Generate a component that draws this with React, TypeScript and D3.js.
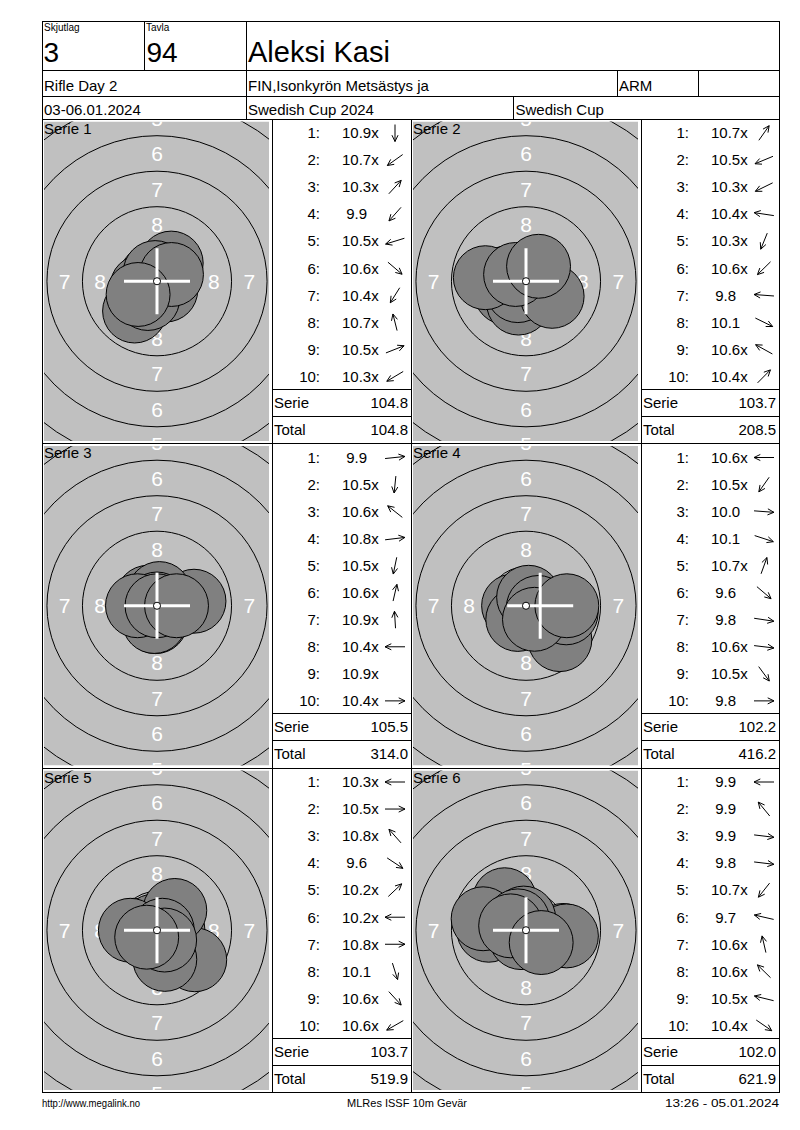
import React from "react";
import * as d3 from "d3";

// ---------------- DATA ----------------
const headerSmall = ["Skjutlag", "Tavla"];
const headerBig = ["3", "94"];
const shooterName = "Aleksi Kasi";
const competition = "Rifle Day 2";
const club = "FIN,Isonkyrön Metsästys ja";
const shooterClass = "ARM";
const dates = "03-06.01.2024";
const eventName = "Swedish Cup 2024";
const eventShort = "Swedish Cup";
const footerTexts = ["http://www.megalink.no", "MLRes ISSF 10m Gevär", "13:26 - 05.01.2024"];

const seriesNames = ["Serie 1", "Serie 2", "Serie 3", "Serie 4", "Serie 5", "Serie 6"];

// decimal score of each shot
const scoresS1 = [10.9, 10.7, 10.3, 9.9, 10.5, 10.6, 10.4, 10.7, 10.5, 10.3];
const scoresS2 = [10.7, 10.5, 10.3, 10.4, 10.3, 10.6, 9.8, 10.1, 10.6, 10.4];
const scoresS3 = [9.9, 10.5, 10.6, 10.8, 10.5, 10.6, 10.9, 10.4, 10.9, 10.4];
const scoresS4 = [10.6, 10.5, 10.0, 10.1, 10.7, 9.6, 9.8, 10.6, 10.5, 9.8];
const scoresS5 = [10.3, 10.5, 10.8, 9.6, 10.2, 10.2, 10.8, 10.1, 10.6, 10.6];
const scoresS6 = [9.9, 9.9, 9.9, 9.8, 10.7, 9.7, 10.6, 10.6, 10.5, 10.4];

// direction of each shot from the centre (degrees, 0 = right, 90 = up); null = centre
const anglesS1 = [-90, 220, 52, 233, 200, -45, 242, 102, 25, 215];
const anglesS2 = [59, 206, 210, 170, 251, 229, 175, -30, 147, 50];
const anglesS3 = [7, 265, 137, 8, 260, 79, 93, 180, null, 0];
const anglesS4 = [180, 239, -5, -21, 73, -45, -10, -8, -58, 0];
const anglesS5 = [180, 0, 127, -38, 48, 180, 0, -75, -52, 214];
const anglesS6 = [180, 125, -8, -8, 236, 165, 101, 131, 164, -39];

const ringNumbers = [4, 5, 6, 7, 8, 9];
const ringLabelNumbers = [5, 6, 7, 8];

const seriesScores = [scoresS1, scoresS2, scoresS3, scoresS4, scoresS5, scoresS6];
const seriesAngles = [anglesS1, anglesS2, anglesS3, anglesS4, anglesS5, anglesS6];

// ---------------- GEOMETRY ----------------
const W = 800;
const H = 1130;
const PX_PER_MM = 14.2;
const SHOT_R_MM = 2.25;
const colX = [42, 272, 411, 641, 779];
const rowY = [119, 443.5, 768, 1092.5];
const FONT = "'Liberation Sans', Arial, sans-serif";

const ringRadiusMM = (k: number) => 0.25 + (10 - k) * 2.5;
const shotDistMM = (s: number) => Math.max(0, (10.95 - s) * 2.5);
const fmt1 = (v: number) => (Math.round(v * 10) / 10).toFixed(1);
const scoreLabel = (s: number) => s.toFixed(1) + (s >= 10.2 ? "x" : "");

function Arrow({ x, y, angle }: { x: number; y: number; angle: number | null }) {
  if (angle === null) return null;
  const a = (angle * Math.PI) / 180;
  const ux = Math.cos(a);
  const uy = -Math.sin(a);
  const hx = 10, hy = 8.5;
  const tx = x - ux * hx, ty = y - uy * hy;
  const px = x + ux * hx, py = y + uy * hy;
  const dirA = Math.atan2(py - ty, px - tx);
  const bl = 7, spread = 0.45;
  const b1x = px - bl * Math.cos(dirA - spread), b1y = py - bl * Math.sin(dirA - spread);
  const b2x = px - bl * Math.cos(dirA + spread), b2y = py - bl * Math.sin(dirA + spread);
  return (
    <g stroke="#000" strokeWidth={1} fill="none">
      <line x1={tx} y1={ty} x2={px} y2={py} />
      <polyline points={`${b1x},${b1y} ${px},${py} ${b2x},${b2y}`} />
    </g>
  );
}

function Target({ idx, x0, x1, y0, y1 }: { idx: number; x0: number; x1: number; y0: number; y1: number }) {
  const cx = (x0 + x1) / 2;
  const cy = (y0 + y1) / 2;
  const xs = d3.scaleLinear().domain([-1, 1]).range([cx - PX_PER_MM, cx + PX_PER_MM]);
  const ys = d3.scaleLinear().domain([-1, 1]).range([cy + PX_PER_MM, cy - PX_PER_MM]);
  const rs = d3.scaleLinear().domain([0, 1]).range([0, PX_PER_MM]);
  const scores = seriesScores[idx];
  const angles = seriesAngles[idx];
  const shots = scores.map((s, i) => {
    const ang = angles[i];
    const d = ang === null ? 0 : shotDistMM(s);
    const a = ((ang ?? 0) * Math.PI) / 180;
    return { mx: d * Math.cos(a), my: d * Math.sin(a) };
  });
  const mpiX = Math.trunc(d3.mean(shots, (d) => d.mx) ?? 0);
  const mpiY = Math.trunc(d3.mean(shots, (d) => d.my) ?? 0);
  const clipId = `clip-${idx}`;
  const gx = x0 + 2, gy = y0 + 2.5, gw = x1 - x0 - 5, gh = y1 - y0 - 5;
  const labelPos: { x: number; y: number; t: number }[] = [];
  ringLabelNumbers.forEach((k) => {
    const r = (ringRadiusMM(k) + ringRadiusMM(k + 1)) / 2;
    labelPos.push({ x: 0, y: r, t: k }, { x: 0, y: -r, t: k }, { x: r, y: 0, t: k }, { x: -r, y: 0, t: k });
  });
  const visibleLabels = labelPos.filter((p) => {
    const px = xs(p.x);
    return px > gx + 4 && px < gx + gw - 4;
  });
  const arm = 33;
  const mx = xs(mpiX), my = ys(mpiY);
  return (
    <g>
      <defs>
        <clipPath id={clipId}>
          <rect x={gx} y={gy} width={gw} height={gh} />
        </clipPath>
      </defs>
      <g clipPath={`url(#${clipId})`}>
        <rect x={gx} y={gy} width={gw} height={gh} fill="#c0c0c0" />
        {ringNumbers.map((k) => (
          <circle key={k} cx={cx} cy={cy} r={rs(ringRadiusMM(k))} fill="none" stroke="#000" strokeWidth={1} />
        ))}
        {visibleLabels.map((p, i) => (
          <text key={i} x={xs(p.x)} y={ys(p.y)} dy="0.36em" textAnchor="middle" fill="#fff"
            fontFamily={FONT} fontSize={21}>{p.t}</text>
        ))}
        {shots.map((s, i) => (
          <circle key={i} cx={xs(s.mx)} cy={ys(s.my)} r={rs(SHOT_R_MM)} fill="#808080" stroke="#000" strokeWidth={1} />
        ))}
        <g stroke="#fff" strokeWidth={3}>
          <line x1={mx - arm} y1={my} x2={mx + arm} y2={my} />
          <line x1={mx} y1={my - arm} x2={mx} y2={my + arm} />
        </g>
        <circle cx={cx} cy={cy} r={rs(ringRadiusMM(10))} fill="#fff" stroke="#000" strokeWidth={1} />
      </g>
      <text x={x0 + 2} y={y0 + 14.5} fontFamily={FONT} fontSize={15} fill="#000">{seriesNames[idx]}</text>
    </g>
  );
}

function ScoreList({ idx, x0, x1, y0, y1 }: { idx: number; x0: number; x1: number; y0: number; y1: number }) {
  const rh = (y1 - y0) / 12;
  const scores = seriesScores[idx];
  const angles = seriesAngles[idx];
  const serieSum = d3.sum(scores);
  const total = d3.sum(seriesScores.slice(0, idx + 1).map((s) => d3.sum(s)));
  return (
    <g fontFamily={FONT} fontSize={15} fill="#000">
      {scores.map((s, i) => {
        const ry = y0 + i * rh;
        return (
          <g key={i}>
            <text x={x0 + 48} y={ry + 19.3} textAnchor="end">{`${i + 1}:`}</text>
            <text x={x0 + 70 + (s < 10 ? 4.2 : 0)} y={ry + 19.3}>{scoreLabel(s)}</text>
            <Arrow x={x0 + 123} y={ry + 14} angle={angles[i]} />
          </g>
        );
      })}
      <line x1={x0} x2={x1} y1={y0 + 10 * rh} y2={y0 + 10 * rh} stroke="#000" shapeRendering="crispEdges" />
      <line x1={x0} x2={x1} y1={y0 + 11 * rh} y2={y0 + 11 * rh} stroke="#000" shapeRendering="crispEdges" />
      <text x={x0 + 2} y={y0 + 10 * rh + 18.3}>Serie</text>
      <text x={x1 - 3} y={y0 + 10 * rh + 18.3} textAnchor="end">{fmt1(serieSum)}</text>
      <text x={x0 + 2} y={y0 + 11 * rh + 18.3}>Total</text>
      <text x={x1 - 3} y={y0 + 11 * rh + 18.3} textAnchor="end">{fmt1(total)}</text>
    </g>
  );
}

export default function App() {
  const L = colX[0], R = colX[4];
  const hTop = 21, h1 = 70, h2 = 96, h3 = rowY[0], bottom = rowY[3];
  const seg = (x1: number, y1: number, x2: number, y2: number, k: string) => (
    <line key={k} x1={x1} y1={y1} x2={x2} y2={y2} stroke="#000" strokeWidth={1} shapeRendering="crispEdges" />
  );
  const lines = [
    seg(L, hTop, R, hTop, "t"),
    seg(L, bottom, R, bottom, "b"),
    seg(L, hTop, L, bottom, "l"),
    seg(R, hTop, R, bottom, "r"),
    seg(L, h1, R, h1, "h1"),
    seg(L, h2, R, h2, "h2"),
    seg(L, h3, R, h3, "h3"),
    seg(144, hTop, 144, h1, "v1"),
    seg(246, hTop, 246, h3, "v2"),
    seg(617, h1, 617, h2, "v3"),
    seg(698, h1, 698, h2, "v4"),
    seg(513, h2, 513, h3, "v5"),
    seg(colX[1], h3, colX[1], bottom, "c1"),
    seg(colX[2], h3, colX[2], bottom, "c2"),
    seg(colX[3], h3, colX[3], bottom, "c3"),
    seg(L, rowY[1], R, rowY[1], "r1"),
    seg(L, rowY[2], R, rowY[2], "r2"),
  ];
  const panels = seriesNames.map((_, i) => {
    const row = Math.floor(i / 2);
    const col = i % 2;
    return { i, tx0: colX[col * 2], tx1: colX[col * 2 + 1], lx1: colX[col * 2 + 2], y0: rowY[row], y1: rowY[row + 1] };
  });
  return (
    <svg width={W} height={H} viewBox={`0 0 ${W} ${H}`}
      style={{ position: "absolute", left: 0, top: 0, display: "block" }}>
      <rect x={0} y={0} width={W} height={H} fill="#fff" />
      {panels.map((p) => (
        <g key={p.i}>
          <Target idx={p.i} x0={p.tx0} x1={p.tx1} y0={p.y0} y1={p.y1} />
          <ScoreList idx={p.i} x0={p.tx1} x1={p.lx1} y0={p.y0} y1={p.y1} />
        </g>
      ))}
      {lines}
      <g fontFamily={FONT} fill="#000">
        <text x={44} y={30.5} fontSize={10}>{headerSmall[0]}</text>
        <text x={146} y={30.5} fontSize={10}>{headerSmall[1]}</text>
        <text x={43.5} y={62} fontSize={28}>{headerBig[0]}</text>
        <text x={146.5} y={62} fontSize={28}>{headerBig[1]}</text>
        <text x={248} y={62} fontSize={29}>{shooterName}</text>
        <text x={44} y={91} fontSize={15}>{competition}</text>
        <text x={248} y={91} fontSize={15}>{club}</text>
        <text x={619} y={91} fontSize={15}>{shooterClass}</text>
        <text x={44} y={115} fontSize={15}>{dates}</text>
        <text x={248} y={115} fontSize={15}>{eventName}</text>
        <text x={515.5} y={115} fontSize={15}>{eventShort}</text>
      </g>
      <g fontFamily="'Liberation Sans Narrow', 'Liberation Sans', Arial, sans-serif" fontSize={11} fill="#000">
        <text x={42} y={1107} textLength={98} lengthAdjust="spacingAndGlyphs">{footerTexts[0]}</text>
        <text x={347} y={1107} textLength={120} lengthAdjust="spacingAndGlyphs">{footerTexts[1]}</text>
        <text x={665} y={1107} textLength={114} lengthAdjust="spacingAndGlyphs">{footerTexts[2]}</text>
      </g>
    </svg>
  );
}
